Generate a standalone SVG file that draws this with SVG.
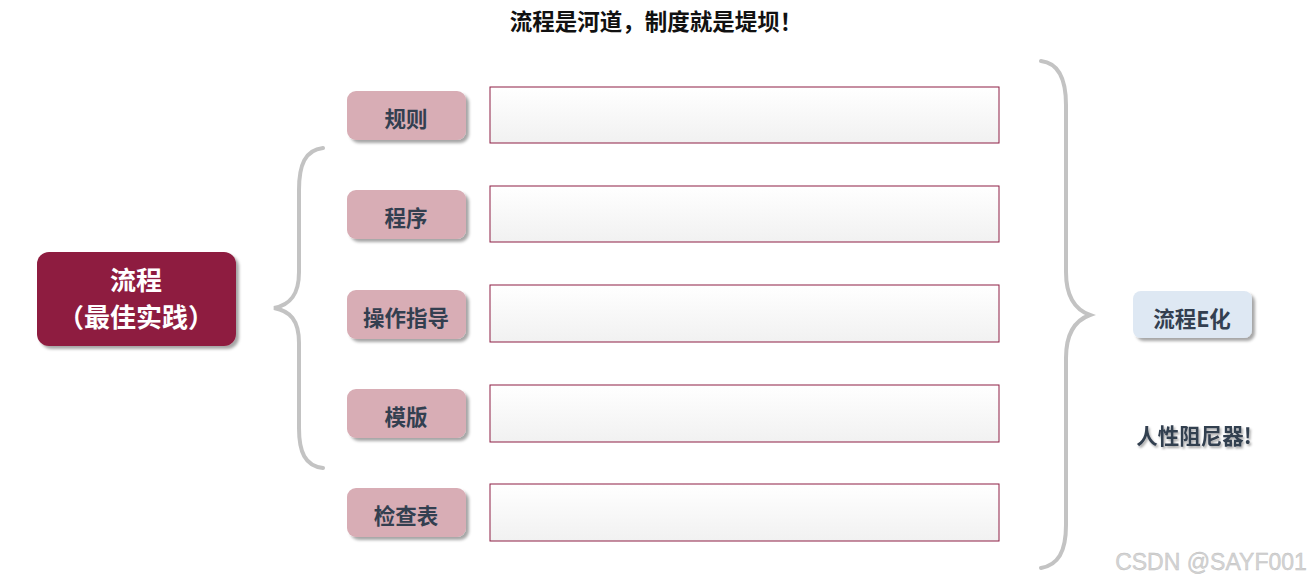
<svg xmlns="http://www.w3.org/2000/svg" width="1314" height="583" viewBox="0 0 1314 583">
<defs>
<linearGradient id="boxg" x1="0" y1="0" x2="0" y2="1"><stop offset="0" stop-color="#ffffff"/><stop offset="1" stop-color="#f1f1f1"/></linearGradient>
<filter id="sh" x="-10%" y="-10%" width="130%" height="140%"><feDropShadow dx="3" dy="3" stdDeviation="1.5" flood-color="#000" flood-opacity="0.35"/></filter>
<filter id="tsh" x="-10%" y="-20%" width="130%" height="160%"><feDropShadow dx="1.5" dy="2" stdDeviation="1" flood-color="#000" flood-opacity="0.35"/></filter>
</defs>
<style>
.cjk{font-family:"Noto Sans CJK SC","Noto Sans",sans-serif;font-weight:bold;text-anchor:middle}
.lbl{fill:#D8ADB5}
.lt{fill:#333F50;font-size:21.5px}
.box{fill:url(#boxg);stroke:#8E1F45;stroke-width:1}
.br{fill:none;stroke:#C3C3C3;stroke-width:4;stroke-linecap:round}
</style>
<rect width="1314" height="583" fill="#ffffff"/>
<text class="cjk" x="656" y="30" font-size="22.5" fill="#111">流程是河道，制度就是堤坝！</text>

<g id="connectors">
<path class="br" d="M323,148 C305,150 299,165 299,190 L299,272 C299,295 290,305 274,308 C290,311 299,320 299,343 L299,428 C299,452 305,466 323,468"/>
<path class="br" d="M1041,61 C1058,63 1066,78 1066,105 L1066,272 C1066,298 1076,310 1090,315 C1076,320 1066,332 1066,358 L1066,525 C1066,552 1058,565 1041,568"/>
</g>

<g id="n-process">
<rect x="37" y="252" width="199" height="94" rx="12" fill="#8E1F3F" filter="url(#sh)"/>
<text class="cjk" x="136" y="290" font-size="26" fill="#fff">流程</text>
<text class="cjk" x="136" y="327" font-size="26" fill="#fff">（最佳实践）</text>
</g>

<g id="n-rule">
<rect class="lbl" x="347" y="91" width="119" height="49" rx="9" filter="url(#sh)"/>
<text class="cjk lt" x="406" y="127">规则</text>
<rect class="box" x="490" y="87" width="509" height="56"/>
</g>
<g id="n-procedure">
<rect class="lbl" x="347" y="190" width="119" height="49" rx="9" filter="url(#sh)"/>
<text class="cjk lt" x="406" y="226">程序</text>
<rect class="box" x="490" y="186" width="509" height="56"/>
</g>
<g id="n-guide">
<rect class="lbl" x="347" y="290" width="119" height="49" rx="9" filter="url(#sh)"/>
<text class="cjk lt" x="406" y="326">操作指导</text>
<rect class="box" x="490" y="285" width="509" height="57"/>
</g>
<g id="n-template">
<rect class="lbl" x="347" y="389" width="119" height="49" rx="9" filter="url(#sh)"/>
<text class="cjk lt" x="406" y="425">模版</text>
<rect class="box" x="490" y="385" width="509" height="57"/>
</g>
<g id="n-checklist">
<rect class="lbl" x="347" y="488" width="119" height="49" rx="9" filter="url(#sh)"/>
<text class="cjk lt" x="406" y="524">检查表</text>
<rect class="box" x="490" y="484" width="509" height="57"/>
</g>

<g id="n-eflow">
<rect x="1133" y="291" width="119" height="47" rx="8" fill="#DEE8F3" filter="url(#sh)"/>
<text class="cjk lt" x="1192" y="327">流程E化</text>
</g>
<g id="n-damper">
<text class="cjk lt" x="1194" y="444" filter="url(#tsh)">人性阻尼器!</text>
</g>

<text x="1211" y="570" font-family="Liberation Sans, Arial, sans-serif" font-size="23" fill="#d4d4d4" text-anchor="middle" stroke="#bdbdbd" stroke-width="0.4">CSDN @SAYF001</text>
</svg>
